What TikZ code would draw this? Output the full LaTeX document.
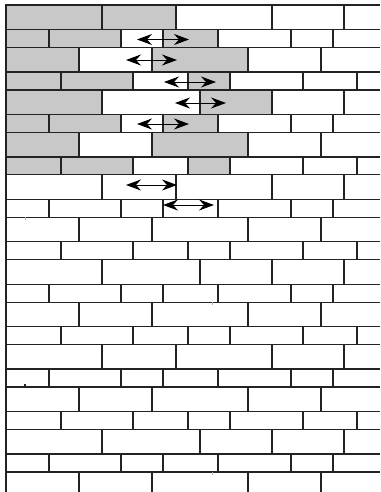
\documentclass[tikz,border=0pt]{standalone}
\usetikzlibrary{arrows.meta}
\definecolor{brickgray}{RGB}{200,200,200}
\definecolor{mortar}{RGB}{35,35,35}
\begin{document}
\begin{tikzpicture}[x=1pt,y=-1pt,
  joint/.style={draw=mortar,line width=1.3pt},
  border/.style={draw=mortar,line width=2.4pt},
  stub/.style={draw=mortar,line width=1.2pt},
  faintstub/.style={draw=gray!60,line width=0.8pt},
  graybrick/.style={fill=brickgray,draw=none},
  shiftarrow/.style={{Stealth[length=15pt,width=11pt,inset=5pt]}-{Stealth[length=15pt,width=11pt,inset=5pt]},line width=0.9pt,black}]
\useasboundingbox (0,0) rectangle (380,492);
\clip (0,0) rectangle (380,492);
\fill[white] (0,0) rectangle (380,492);
% gray bricks: top, bottom, x1, x2
\foreach \t/\b/\xa/\xb in {
  5/29.5/6/176,
  29.5/47.45/6/121, 29.5/47.45/163/218,
  47.45/71.95/6/79, 47.45/71.95/152/248,
  71.95/89.9/6/133, 71.95/89.9/188/230,
  89.9/114.4/6/102, 89.9/114.4/200/272,
  114.4/132.35/6/121, 114.4/132.35/163/218,
  132.35/156.85/6/79, 132.35/156.85/152/248,
  156.85/174.8/6/133, 156.85/174.8/188/230}
  { \fill[graybrick] (\xa,\t) rectangle (\xb,\b); }
% tall rows
\foreach \k in {0,...,11} {
  \pgfmathsetmacro\ty{5+42.45*\k}
  \pgfmathsetmacro\tb{\ty+24.5}
  \pgfmathtruncatemacro\m{mod(\k,4)}
  \ifcase\m \def\J{102,176,272,344}\or \def\J{79,152,248,321}\or \def\J{102,200,272,344}\or \def\J{79,152,248,321}\fi
  \foreach \x in \J { \draw[joint] (\x,\ty) -- (\x,\tb); }
  \draw[joint] (6,\ty) -- (380,\ty);
}
% short rows
\foreach \k in {0,...,10} {
  \pgfmathsetmacro\sy{29.5+42.45*\k}
  \pgfmathsetmacro\sb{\sy+17.95}
  \pgfmathtruncatemacro\m{mod(\k,2)}
  \ifcase\m \def\J{49,121,163,218,291,333}\or \def\J{61,133,188,230,303,357}\fi
  \foreach \x in \J { \draw[joint] (\x,\sy) -- (\x,\sb); }
  \draw[joint] (6,\sy) -- (380,\sy);
}
% small stubs
\draw[stub] (25,384) -- (25,387);
\draw[faintstub] (25,217) -- (25,219.5);
\draw[faintstub] (212,302) -- (212,304.5);
\draw[faintstub] (212,472) -- (212,474.5);
% borders
\draw[border] (6,5) -- (380,5);
\draw[border] (6,4) -- (6,492);
% shift arrows
\coordinate (a1l) at (137,39.5); \coordinate (a1r) at (189,39.5);
\coordinate (a2l) at (126,60);   \coordinate (a2r) at (177,60);
\coordinate (a3l) at (164,82);   \coordinate (a3r) at (216,82);
\coordinate (a4l) at (175,103);  \coordinate (a4r) at (226,103);
\coordinate (a5l) at (137,124);  \coordinate (a5r) at (189,124);
\coordinate (a6l) at (126,185);  \coordinate (a6r) at (177,185);
\coordinate (a7l) at (163,205);  \coordinate (a7r) at (214,205);
\foreach \i in {1,...,7} { \draw[shiftarrow] (a\i l) -- (a\i r); }
\end{tikzpicture}
\end{document}
